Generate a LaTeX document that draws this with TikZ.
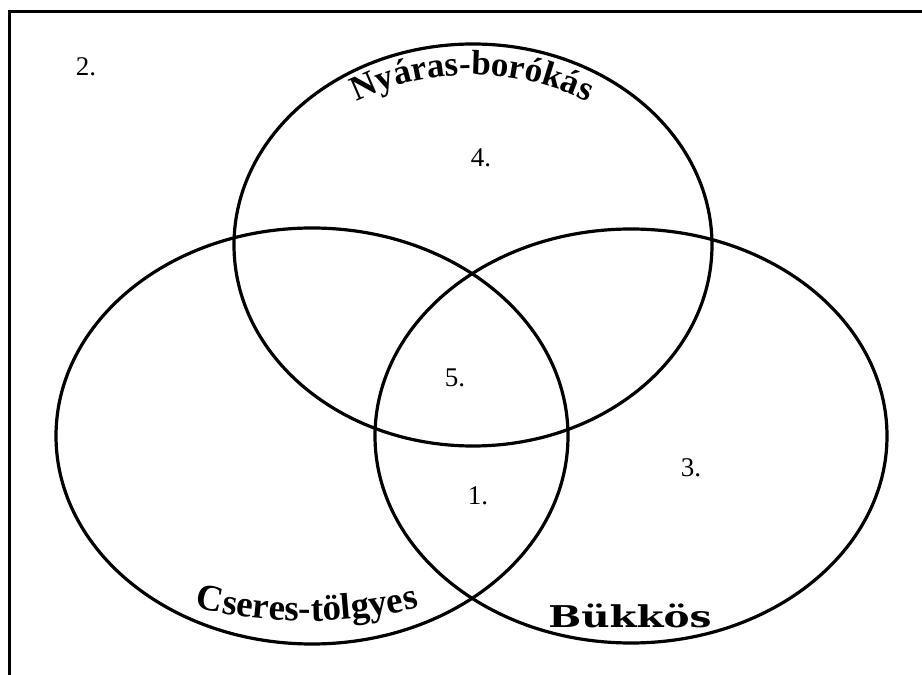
\documentclass[tikz,border=0pt]{standalone}
\usepackage{fontspec}
\setmainfont{Liberation Serif}
\newfontfamily\widefont{DejaVu Serif}
\usetikzlibrary{decorations.text}
\begin{document}
\begin{tikzpicture}[x=1pt,y=1pt,
  ring/.style={line width=3.2pt},
  frame/.style={line width=3pt},
  num/.style={font=\fontsize{27}{30}\selectfont, inner sep=0pt}]
\useasboundingbox (0,0) rectangle (922,675);
\clip (0,0) rectangle (922,675);
% frame (runs off the right and bottom edges)
\coordinate (fbl) at (9,-20);
\coordinate (ftl) at (9,663);
\coordinate (ftr) at (940,663);
\draw[frame] (fbl) -- (ftl) -- (ftr);
% sets
\draw[ring] (473,430) ellipse [x radius=239, y radius=201];
\draw[ring] (312,239) ellipse [x radius=256, y radius=208];
\draw[ring] (631,239) ellipse [x radius=256, y radius=207];
% curved titles
\path[decorate, decoration={text along path, text align=center,
  text={|\bfseries\fontsize{35}{37}\selectfont|Nyáras-borókás}}]
  (472,338) ++(165:262) arc[start angle=165, end angle=15, radius=262];
\path[decorate, decoration={text along path, text align=center,
  text={|\bfseries\fontsize{37}{39}\selectfont|Cseres-tölgyes}}]
  (307,534) ++(245:480) arc[start angle=245, end angle=295, radius=480];
\node[font=\widefont\bfseries\fontsize{30}{32}\selectfont, xscale=1.3, anchor=base, inner sep=0pt] (buk) at (630,47) {Bükkös};
% region numbers
\node[num] (n2) at (86,608) {2.};
\node[num] (n4) at (481,517) {4.};
\node[num] (n5) at (455,297) {5.};
\node[num] (n3) at (691,207) {3.};
\node[num] (n1) at (478,179) {1.};
\end{tikzpicture}
\end{document}
